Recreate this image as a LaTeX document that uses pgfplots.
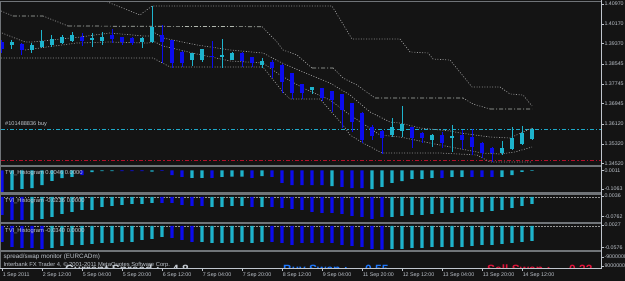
\documentclass[border=0pt]{standalone}
\usepackage{pgfplots}
\pgfplotsset{compat=1.18}
\usepackage{pgfplotstable}
\usepackage{fontspec}
\setmainfont{Liberation Sans}
\definecolor{bg}{RGB}{20,20,20}
\definecolor{fg}{RGB}{192,198,206}
\definecolor{sep}{RGB}{112,116,120}
\definecolor{lin}{RGB}{150,150,150}
\definecolor{linb}{RGB}{178,184,176}
\definecolor{bull}{RGB}{30,180,205}
\definecolor{bear}{RGB}{12,12,238}
\definecolor{buyl}{RGB}{30,168,200}
\definecolor{redl}{RGB}{180,16,44}
\definecolor{buyc}{RGB}{30,120,255}
\definecolor{sellc}{RGB}{225,20,60}
\definecolor{pricebg}{RGB}{226,234,242}

\pgfplotstableread{
x hi lo top bot
0 1.39516 1.38991 1.39435 1.39152
2 1.39395 1.38910 1.39354 1.39112
8 1.39799 1.39274 1.39637 1.39476
11 1.39960 1.39395 1.39718 1.39556
12 1.39637 1.39314 1.39637 1.39435
13 1.39637 1.39314 1.39597 1.39395
16 1.40122 1.38587 1.39718 1.39435
17 1.39516 1.38385 1.39516 1.38587
18 1.39072 1.38425 1.39031 1.38587
21 1.39476 1.38385 1.38870 1.38829
24 1.39031 1.38425 1.38991 1.38668
25 1.38829 1.38425 1.38829 1.38587
27 1.38708 1.37981 1.38627 1.38385
28 1.38546 1.37374 1.38506 1.37819
29 1.38183 1.37132 1.38183 1.37374
30 1.37738 1.37132 1.37738 1.37374
32 1.37577 1.37051 1.37577 1.37173
33 1.37455 1.36607 1.37455 1.37092
34 1.37334 1.35961 1.37334 1.36688
35 1.36971 1.35799 1.36971 1.36203
36 1.36607 1.35355 1.36567 1.35476
37 1.36082 1.35476 1.36001 1.35638
38 1.35880 1.34910 1.35840 1.35557
41 1.36001 1.35153 1.36001 1.35557
42 1.35799 1.35355 1.35759 1.35557
44 1.35799 1.35153 1.35678 1.35355
46 1.35880 1.35112 1.35678 1.35476
47 1.35920 1.34870 1.35597 1.35193
48 1.35395 1.34749 1.35355 1.34951
49 1.35193 1.34587 1.35153 1.34951
}\beartab

\pgfplotstableread{
x hi lo top bot
1 1.39516 1.39152 1.39435 1.39314
3 1.39395 1.38991 1.39314 1.39112
4 1.39920 1.39193 1.39476 1.39233
5 1.39718 1.39233 1.39556 1.39314
6 1.39718 1.39354 1.39637 1.39395
7 1.39839 1.39435 1.39718 1.39476
9 1.39799 1.39233 1.39597 1.39516
10 1.39839 1.39314 1.39637 1.39476
14 1.39637 1.39193 1.39597 1.39435
15 1.40890 1.39395 1.40041 1.39435
19 1.38991 1.38466 1.38991 1.38708
20 1.39152 1.38627 1.39152 1.38708
22 1.39556 1.38385 1.38910 1.38829
23 1.39031 1.38708 1.38991 1.38708
26 1.38789 1.38385 1.38668 1.38506
31 1.37617 1.37334 1.37617 1.37496
39 1.36365 1.35597 1.36001 1.35678
40 1.36850 1.35597 1.36122 1.35840
43 1.35718 1.35193 1.35678 1.35476
45 1.36082 1.34991 1.35638 1.35557
50 1.35436 1.34870 1.35153 1.34951
51 1.36001 1.35072 1.35557 1.35112
52 1.36042 1.35274 1.35759 1.35314
53 1.35961 1.35476 1.35920 1.35516
}\bulltab

\newcommand\tkf{\fontsize{5.3}{6}\selectfont}
\newcommand\ttf{\fontsize{5.8}{6.5}\selectfont}

\pgfplotsset{
  mt/.style={scale only axis, width=600pt, xmin=-0.1, xmax=59.9,
    anchor=south west, axis line style={draw=none}, xtick=\empty,
    scaled y ticks=false, scaled x ticks=false,
    ytick pos=right, tick align=outside, major tick length=2.5pt,
    tick style={draw=fg, line width=0.6pt},
    yticklabel style={font=\tkf, text=fg, anchor=west, inner sep=0.5pt, xshift=0.3pt},
    unbounded coords=jump},
  hb/.style={ybar, bar width=3.3pt, bar shift=0pt, draw=none, fill=#1},
  dotl/.style={lin, line width=0.7pt, dash pattern=on 1pt off 1.6pt},
  dashdotl/.style={linb, line width=0.7pt, dash pattern=on 4pt off 2pt on 1pt off 2pt},
  candle/.style 2 args={#1, only marks, mark=text, text mark={},
    error bars/.cd, y dir=minus, y explicit, error mark=none,
    error bar style={line width=#2, draw=#1, solid}},
}

\begin{document}
\begin{tikzpicture}[x=1pt,y=1pt]
\fill[bg] (0,0) rectangle (625,281);

% ---------- main price panel ----------
\begin{axis}[mt, at={(1pt,115.5pt)}, height=164pt, ymin=1.344458, ymax=1.410714,
  ytick={1.40970,1.40170,1.39370,1.38545,1.37745,1.36945,1.36120,1.35320,1.34520},
  yticklabels={1.40970,1.40170,1.39370,1.38545,1.37745,1.36945,1.36120,1.35320,1.34520}]
\addplot[buyl, line width=0.8pt, dash pattern=on 4pt off 2pt on 1.2pt off 2pt] coordinates {(-0.1,1.35892) (59.9,1.35892)};
\addplot[redl, line width=0.8pt, dash pattern=on 4pt off 2pt on 1.2pt off 2pt] coordinates {(-0.1,1.34648) (59.9,1.34648)};
% step line
\addplot[dotl] coordinates {(-0.1,1.40688) (1.1,1.40486) (nan,nan) (4.1,1.40486) (6.6,1.40082) (nan,nan) (26.0,1.40053) (27.5,1.39435) (28.1,1.39112) (29.5,1.38910) (31.0,1.38385) (nan,nan) (33.1,1.38385) (34.1,1.37981) (35.5,1.37698) (37.3,1.37173) (nan,nan) (46.1,1.37173) (47.1,1.36930) (48.8,1.36728)};
\addplot[dashdotl] coordinates {(1.1,1.40486) (4.1,1.40486) (nan,nan) (6.6,1.40082) (26.0,1.40053) (nan,nan) (31.0,1.38385) (33.1,1.38385) (nan,nan) (37.3,1.37173) (46.1,1.37173) (nan,nan) (48.8,1.36728) (53,1.36728)};
% top line
\addplot[dotl] coordinates {(9.8,1.41213) (10.8,1.41011) (13.8,1.40526) (15,1.40890) (33,1.40890) (35,1.39556) (39.8,1.39556) (40.8,1.39031) (42.6,1.38991) (43.1,1.38748) (44.8,1.38708) (47,1.37617) (49.8,1.37617) (50.8,1.37334) (52.1,1.37294) (53,1.36850)};
% lower step line
\addplot[dotl] coordinates {(-0.1,1.38789) (15.1,1.38789) (16.8,1.38425) (26.1,1.38425) (28.1,1.37415) (28.8,1.37132) (31.8,1.37132) (34.1,1.36082) (34.8,1.35678) (36.1,1.35355) (38,1.34951) (43.8,1.34951) (47.5,1.34870) (48.8,1.34587) (53,1.34587)};
% envelopes
\addplot[dotl] coordinates {(0,1.39799) (2.3,1.39435) (3.1,1.39435) (7.8,1.39637) (10.8,1.39799) (14.1,1.39678) (14.8,1.39678) (15.3,1.39799) (16.1,1.39597) (19.5,1.39314) (22.8,1.39112) (26.1,1.38991) (27.8,1.38627) (30.1,1.38223) (32.8,1.37779) (34.8,1.37294) (36.8,1.36607) (38.8,1.36203) (39.8,1.36163) (41.8,1.35961) (44.8,1.35840) (45.8,1.35759) (48.8,1.35597) (50.8,1.35557) (53,1.35961)};
\addplot[dotl] coordinates {(2.3,1.39112) (4.5,1.39233) (7.5,1.39395) (10.8,1.39435) (14.5,1.39395) (15.3,1.39435) (16.1,1.39274) (19.5,1.38950) (22.8,1.38668) (26.1,1.38587) (27.8,1.38102) (30.1,1.37577) (32.8,1.37092) (34.8,1.36486) (37.8,1.35678) (39.8,1.35597) (43.8,1.35274) (48,1.34951) (49.8,1.34910) (51.3,1.34991) (53,1.35193)};
% candles
\addplot[candle={bear}{1pt}] table[x=x, y=hi, y error minus expr=\thisrow{hi}-\thisrow{lo}] {\beartab};
\addplot[candle={bull}{1pt}] table[x=x, y=hi, y error minus expr=\thisrow{hi}-\thisrow{lo}] {\bulltab};
\addplot[candle={bear}{3.2pt}] table[x=x, y=top, y error minus expr=\thisrow{top}-\thisrow{bot}] {\beartab};
\addplot[candle={bull}{3.2pt}] table[x=x, y=top, y error minus expr=\thisrow{top}-\thisrow{bot}] {\bulltab};
\node[font=\fontsize{5.6}{6}\selectfont, text=fg, anchor=south west, inner sep=0pt] at (axis cs:0.3,1.36012) {\#101488836 buy};
\node[fill=pricebg, text=black, font=\tkf, inner sep=0.6pt, anchor=west] at (axis cs:59.95,1.35892) {1.35892};
\end{axis}

% ---------- TVI panel 1 ----------
\begin{axis}[mt, at={(1pt,88.5pt)}, height=25pt, ymin=-0.12694, ymax=0.01731,
  ytick={0.0011,-0.1063}, yticklabels={0.0011,-0.1063}]
\addplot[hb=bear] coordinates {(0,-0.1241)(8,-0.0260)(12,-0.004)(13,-0.004)(14,-0.003)(16,-0.002)(17,-0.026)(18,-0.037)(21,-0.043)(25,-0.043)(27,-0.037)(28,-0.072)(29,-0.084)(30,-0.084)(31,-0.084)(32,-0.084)(34,-0.095)(35,-0.101)(36,-0.101)(44,-0.043)(47,-0.037)(48,-0.037)(49,-0.037)};
\addplot[hb=bull] coordinates {(1,-0.1125)(2,-0.1067)(3,-0.1010)(4,-0.0837)(5,-0.0606)(6,-0.0433)(7,-0.0375)(9,-0.0087)(10,-0.004)(11,-0.003)(15,-0.007)(19,-0.043)(20,-0.043)(22,-0.037)(23,-0.035)(24,-0.035)(26,-0.032)(33,-0.090)(37,-0.107)(38,-0.095)(39,-0.072)(40,-0.061)(41,-0.049)(42,-0.049)(43,-0.043)(45,-0.037)(46,-0.037)(50,-0.037)(51,-0.026)(52,-0.008)(53,-0.002)};
\node[font=\ttf, text=fg, anchor=west, inner sep=0pt] at (rel axis cs:0.0067,0.79) {TVI\_Histogram 0.0046 0.0000};
\end{axis}

% ---------- TVI panel 2 ----------
\begin{axis}[mt, at={(1pt,59.3pt)}, height=27pt, ymin=-0.09633, ymax=0.00897,
  ytick={0.0036,-0.0762}, yticklabels={0.0036,-0.0762}]
\addplot[lin, line width=0.5pt, dash pattern=on 1.5pt off 1.5pt] coordinates {(-0.1,0) (59.9,0)};
\addplot[hb=bear] coordinates {(0,-0.0702)(1,-0.0897)(2,-0.0897)(16,-0.0234)(17,-0.0234)(18,-0.0312)(19,-0.0351)(20,-0.0351)(25,-0.0390)(27,-0.0390)(28,-0.0429)(29,-0.0468)(30,-0.0507)(31,-0.0585)(32,-0.0624)(33,-0.0624)(34,-0.0663)(35,-0.0741)(36,-0.0780)(37,-0.0858)(38,-0.0780)};
\addplot[hb=bull] coordinates {(3,-0.0897)(4,-0.0858)(5,-0.0780)(6,-0.0663)(7,-0.0585)(8,-0.0507)(9,-0.0507)(10,-0.0390)(11,-0.0351)(12,-0.0312)(13,-0.0273)(14,-0.0273)(15,-0.0234)(21,-0.0390)(22,-0.0390)(23,-0.0351)(24,-0.0351)(26,-0.0390)(39,-0.0780)(40,-0.0741)(41,-0.0702)(42,-0.0702)(43,-0.0663)(44,-0.0624)(45,-0.0624)(46,-0.0585)(47,-0.0585)(48,-0.0585)(49,-0.0546)(50,-0.0507)(51,-0.0429)(52,-0.0351)(53,-0.0273)};
\node[font=\ttf, text=fg, anchor=west, inner sep=0pt] at (rel axis cs:0.0067,0.778) {TVI\_Histogram -0.0236 0.0000};
\end{axis}

% ---------- TVI panel 3 ----------
\begin{axis}[mt, at={(1pt,31pt)}, height=26.3pt, ymin=-0.0648, ymax=0.00621,
  ytick={0.0027,-0.0576}, yticklabels={0.0027,-0.0576}]
\addplot[lin, line width=0.5pt, dash pattern=on 1.5pt off 1.5pt] coordinates {(-0.1,0) (59.9,0)};
\addplot[hb=bear] coordinates {(0,-0.0432)(1,-0.0567)(2,-0.0594)(3,-0.0594)(4,-0.0621)(17,-0.0324)(18,-0.0378)(19,-0.0432)(27,-0.0432)(28,-0.0459)(29,-0.0513)(30,-0.0459)(31,-0.0459)(32,-0.0459)(33,-0.0459)(34,-0.0513)(35,-0.0540)(36,-0.0567)(37,-0.0621)(38,-0.0640)};
\addplot[hb=bull] coordinates {(5,-0.0594)(6,-0.0540)(7,-0.0513)(8,-0.0513)(9,-0.0486)(10,-0.0459)(11,-0.0459)(12,-0.0432)(13,-0.0432)(14,-0.0378)(15,-0.0351)(16,-0.0297)(20,-0.0432)(21,-0.0459)(22,-0.0459)(23,-0.0459)(24,-0.0432)(25,-0.0459)(26,-0.0432)(39,-0.0621)(40,-0.0621)(41,-0.0594)(42,-0.0594)(43,-0.0567)(44,-0.0567)(45,-0.0567)(46,-0.0567)(47,-0.0540)(48,-0.0513)(49,-0.0513)(50,-0.0486)(51,-0.0459)(52,-0.0432)(53,-0.0405)};
\node[font=\ttf, text=fg, anchor=west, inner sep=0pt] at (rel axis cs:0.0067,0.734) {TVI\_Histogram -0.0340 0.0000};
\end{axis}

% ---------- spread panel + dates ----------
\begin{axis}[mt, at={(1pt,12.3pt)}, height=16.7pt, ymin=0, ymax=1,
  ytick={0.70,0.16}, yticklabels={-9000000,9000000},
  xtick={0,4,8,12,16,20,24,28,32,36,40,44,48,52},
  xticklabels={1 Sep 2011,2 Sep 12:00,5 Sep 04:00,5 Sep 20:00,6 Sep 12:00,7 Sep 04:00,7 Sep 20:00,8 Sep 12:00,9 Sep 04:00,11 Sep 20:00,12 Sep 12:00,13 Sep 04:00,13 Sep 20:00,14 Sep 12:00},
  xtick pos=bottom, xticklabel style={font=\tkf, text=fg, anchor=north west, inner sep=0pt, xshift=0.6pt, yshift=-1.6pt}]
\node[font=\fontsize{6.3}{7}\selectfont, text=fg, anchor=west, inner sep=0pt] at (rel axis cs:0.004,0.73) {spread/swap monitor (EURCADm)};
\node[font=\fontsize{5.8}{6.5}\selectfont, text=fg, anchor=west, inner sep=0pt] at (rel axis cs:0.004,0.25) {Interbank FX Trader 4, © 2001-2011 MetaQuotes Software Corp.};
\end{axis}

\begin{scope}
\clip (1,12.3) rectangle (601,29);
\node[font=\fontsize{12}{13}\bfseries, text=fg!95!white, anchor=base west, inner sep=0pt] at (65,7.4) {Current Spread :};
\node[font=\fontsize{12}{13}\bfseries, text=fg!95!white, anchor=base west, inner sep=0pt] at (172,7.4) {4.8};
\node[font=\fontsize{12}{13}\bfseries, text=buyc, anchor=base west, inner sep=0pt] at (283,7.4) {Buy Swap :};
\node[font=\fontsize{12}{13}\bfseries, text=buyc, anchor=base west, inner sep=0pt] at (365,7.4) {0.55};
\node[font=\fontsize{12}{13}\bfseries, text=sellc, anchor=base west, inner sep=0pt] at (487,7.4) {Sell Swap :};
\node[font=\fontsize{12}{13}\bfseries, text=sellc, anchor=base west, inner sep=0pt] at (565,7.4) {-0.33};
\end{scope}

\fill[sep] (0,113.5) rectangle (601,115.5);
\fill[sep] (0,86.3) rectangle (601,88.5);
\fill[sep] (0,57.3) rectangle (601,59.3);
\fill[sep] (0,29) rectangle (601,31);
\draw[sep, line width=0.8pt] (0,279.6) -- (601,279.6);
\draw[sep, line width=0.8pt] (0.5,12.3) -- (0.5,280);
\draw[fg, line width=0.8pt] (0,12.3) -- (601,12.3);
\draw[fg, line width=0.8pt] (601,12) -- (601,281);

\pgfresetboundingbox
\path[use as bounding box] (0,0) rectangle (625,281);
\end{tikzpicture}
\end{document}
